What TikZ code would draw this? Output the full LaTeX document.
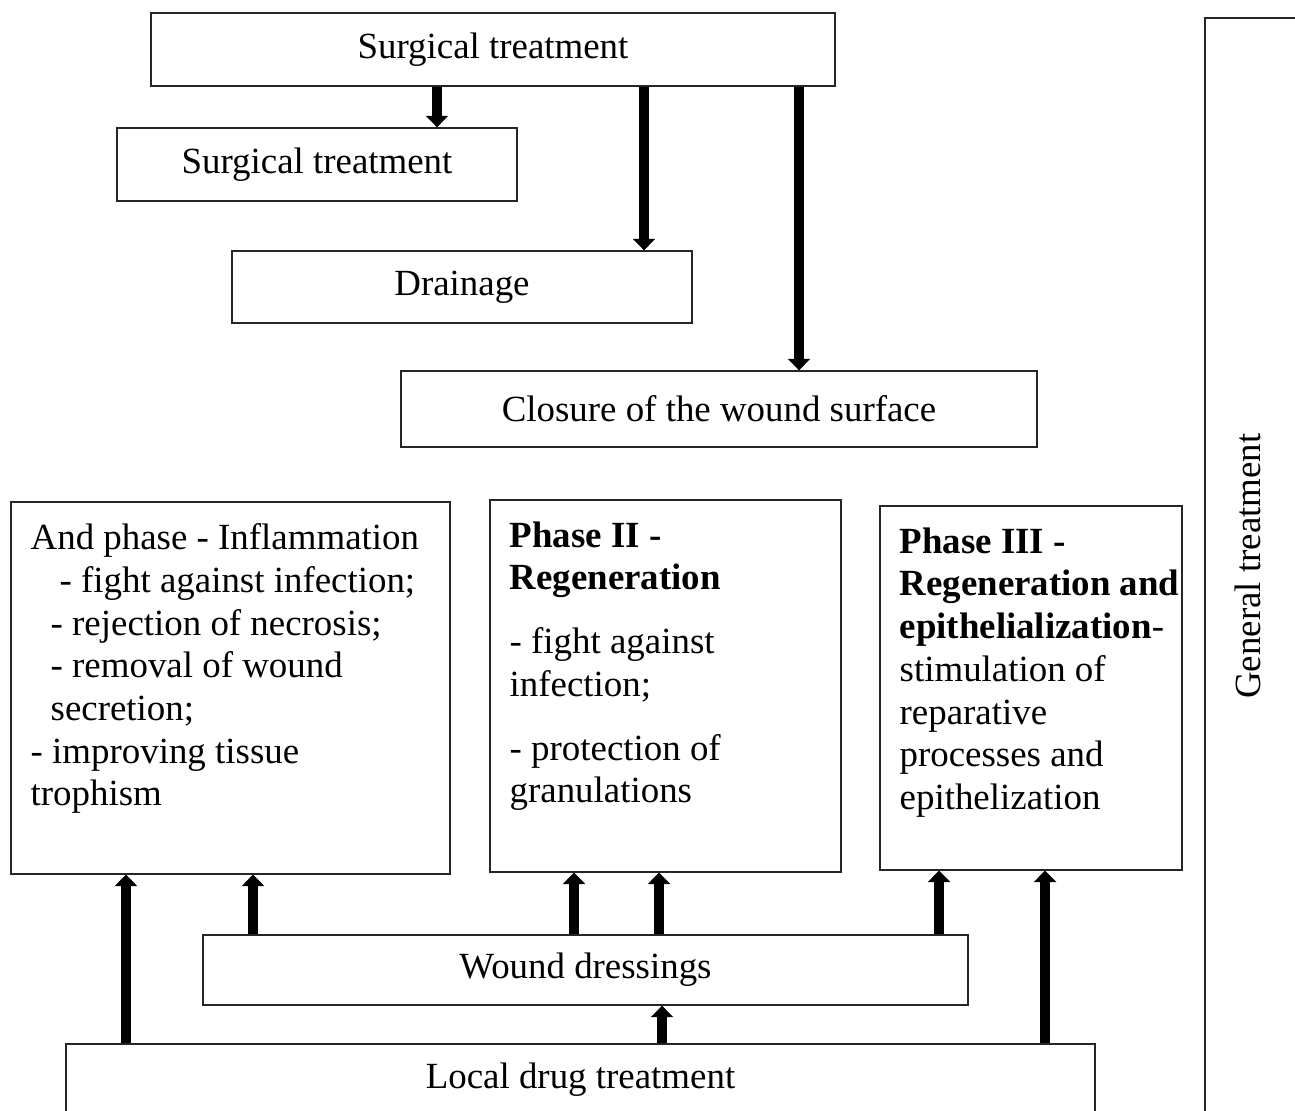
\documentclass[tikz,border=0pt]{standalone}
\usepackage{fontspec}
\setmainfont{Liberation Serif}
\usetikzlibrary{arrows.meta, positioning}

\begin{document}
\begin{tikzpicture}[x=0.02cm, y=-0.02cm,
  every node/.style={font=\fontsize{21}{24.3}\selectfont},
  tbox/.style={draw=black!85, line width=0.8pt, inner sep=0pt},
  ptext/.style={anchor=north west, align=left, inner sep=0pt},
  arr/.style={-{Triangle[width=12.5pt, length=6.5pt]}, line width=5.5pt}]
  \useasboundingbox (0,0) rectangle (1295,1111);

  % Surgical branch
  \node[tbox, minimum width=13.68cm, minimum height=1.46cm] (surg) at (493,49.5) {Surgical treatment};
  \node[tbox, minimum width=8cm, minimum height=1.46cm] (surg2) at (317,164.5) {Surgical treatment};
  \node[tbox, minimum width=9.2cm, minimum height=1.44cm] (drain) at (462,287) {Drainage};
  \node[tbox, minimum width=12.72cm, minimum height=1.52cm] (closure) at (719,409) {Closure of the wound surface};

  \draw[arr] (surg.south -| 437,0) -- (surg2.north -| 437,0);
  \draw[arr] (surg.south -| 644,0) -- (drain.north -| 644,0);
  \draw[arr] (surg.south -| 799,0) -- (closure.north -| 799,0);

  % Phases
  \node[tbox, minimum width=8.78cm, minimum height=7.44cm] (phaseI) at (230.5,688) {};
  \node[ptext] (phaseItxt) at ([xshift=0.4cm, yshift=-0.44cm]phaseI.north west)
    {And phase - Inflammation\\
     \hspace*{0.58cm}- fight against infection;\\
     \hspace*{0.4cm}- rejection of necrosis;\\
     \hspace*{0.4cm}- removal of wound\\
     \hspace*{0.4cm}secretion;\\
     - improving tissue\\
     trophism};

  \node[tbox, minimum width=7.02cm, minimum height=7.44cm] (phaseII) at (665.5,686) {};
  \node[ptext] (phaseIItxt) at ([xshift=0.4cm, yshift=-0.44cm]phaseII.north west)
    {\textbf{Phase II -}\\
     \textbf{Regeneration}\\[12pt]
     - fight against\\
     infection;\\[12pt]
     - protection of\\
     granulations};

  \node[tbox, minimum width=6.04cm, minimum height=7.28cm] (phaseIII) at (1031,688) {};
  \node[ptext] (phaseIIItxt) at ([xshift=0.4cm, yshift=-0.44cm]phaseIII.north west)
    {\textbf{Phase III -}\\
     \textbf{Regeneration and}\\
     \textbf{epithelialization}-\\
     stimulation of\\
     reparative\\
     processes and\\
     epithelization};

  % General treatment
  \node[tbox, minimum width=3.9cm, minimum height=22.24cm] (general) at (1302.5,574) {};
  \node[rotate=90] (generaltxt) at (1248,566) {General treatment};

  % Dressings and drugs
  \node[tbox, minimum width=15.3cm, minimum height=1.4cm] (wound) at (585.5,970) {Wound dressings};
  \node[tbox, minimum width=20.58cm, minimum height=1.44cm] (local) at (580.5,1080) {Local drug treatment};

  \draw[arr] (local.north -| 126,0) -- (phaseI.south -| 126,0);
  \draw[arr] (wound.north -| 253,0) -- (phaseI.south -| 253,0);
  \draw[arr] (wound.north -| 574,0) -- (phaseII.south -| 574,0);
  \draw[arr] (wound.north -| 659,0) -- (phaseII.south -| 659,0);
  \draw[arr] (wound.north -| 939,0) -- (phaseIII.south -| 939,0);
  \draw[arr] (local.north -| 1045,0) -- (phaseIII.south -| 1045,0);
  \draw[arr] (local.north -| 662,0) -- (wound.south -| 662,0);
\end{tikzpicture}
\end{document}
